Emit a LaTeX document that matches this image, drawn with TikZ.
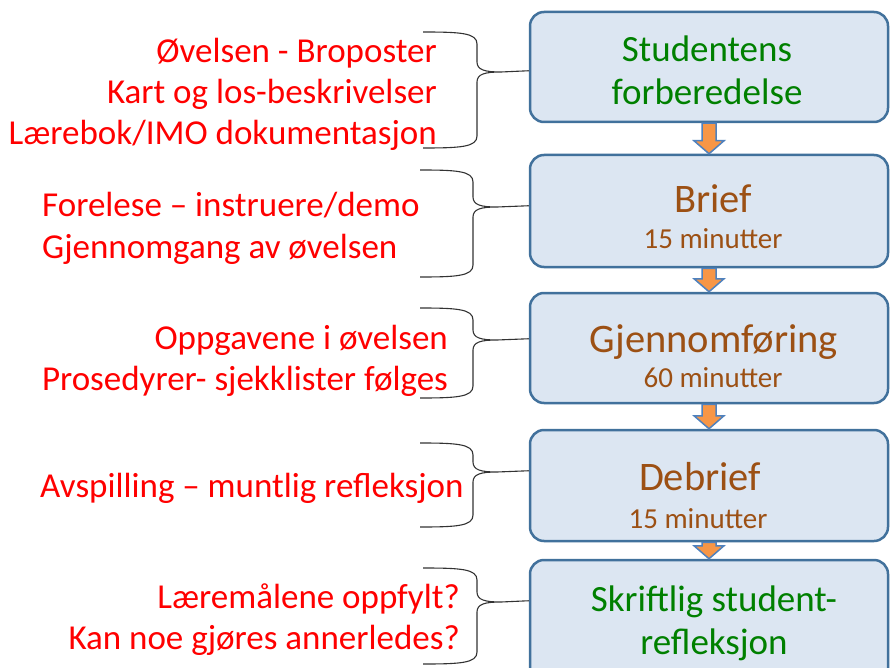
\documentclass[tikz,border=0pt]{standalone}
\usepackage{fontspec}
\setmainfont{Carlito}
\usetikzlibrary{calc}
\definecolor{boxfill}{RGB}{220,230,242}
\definecolor{boxline}{RGB}{65,113,156}
\definecolor{arrfill}{RGB}{247,150,70}
\definecolor{arrline}{RGB}{79,129,189}
\definecolor{txtred}{RGB}{255,0,0}
\definecolor{txtgreen}{RGB}{0,128,0}
\definecolor{txtbrown}{RGB}{156,80,20}
\newcommand\mybrace[6]{%
  \draw[brc] (#1,#4) .. controls (#2-16,#4) and (#2,#4+1) .. (#2,#4+12) -- (#2,#5-10)
    .. controls (#2,#5-2) and (#2+8,#5) .. (#2+24,#5) -- (#3)
    (#2+24,#5) .. controls (#2+8,#5) and (#2,#5+2) .. (#2,#5+10) -- (#2,#6-12)
    .. controls (#2,#6-1) and (#2-16,#6) .. (#1,#6);}
\newcommand\flowarrow[2]{%
  \draw[arr] let \p1=(#1.south), \p2=(#2.north) in
    (\x1-7pt,\y1) -- (\x1-7pt,\y2+13pt) -- (\x1-15pt,\y2+13pt) -- (\x1,\y2)
    -- (\x1+15pt,\y2+13pt) -- (\x1+7pt,\y2+13pt) -- (\x1+7pt,\y1) -- cycle;}
\begin{document}
\begin{tikzpicture}[x=1pt,y=-1pt,
  stepbox/.style={draw=boxline, fill=boxfill, line width=2.5pt, rounded corners=14pt,
    minimum width=358pt, inner sep=0pt},
  arr/.style={fill=arrfill, draw=arrline, line width=1.5pt, line join=miter},
  brc/.style={draw=black!80, line width=1.1pt},
  lefttxt/.style={text=txtred, font=\fontsize{35}{41}\selectfont, inner sep=0pt},
  grntxt/.style={text=txtgreen, font=\fontsize{37}{43}\selectfont, inner sep=0pt, align=center, anchor=base},
  headtxt/.style={text=txtbrown, font=\fontsize{40.5}{44}\selectfont, inner sep=0pt, anchor=base},
  mintxt/.style={text=txtbrown, font=\fontsize{29}{32}\selectfont, inner sep=0pt, anchor=base}]
\path[use as bounding box] (0,0) rectangle (890,668);
\clip (0,0) rectangle (890,668);
\fill[white] (0,0) rectangle (890,668);

% boxes
\node[stepbox, minimum height=110pt] (b1) at (709,67) {};
\node[stepbox, minimum height=112pt] (b2) at (709,211) {};
\node[stepbox, minimum height=110pt] (b3) at (709,348) {};
\node[stepbox, minimum height=111pt] (b4) at (709,485.5) {};
\node[stepbox, minimum height=130pt] (b5) at (709,625) {};

% arrows
\flowarrow{b1}{b2}
\flowarrow{b2}{b3}
\flowarrow{b3}{b4}
\flowarrow{b4}{b5}

% box texts (base = last line's baseline)
\node[grntxt] (t1) at (707,105) {Studentens\\forberedelse};
\node[headtxt] (t2) at (713,212) {Brief};
\node[mintxt] (m2) at (713,248) {15 minutter};
\node[headtxt] (t3) at (714,352) {Gjennomføring};
\node[mintxt] (m3) at (713,387) {60 minutter};
\node[headtxt] (t4) at (700,490) {Debrief};
\node[mintxt] (m4) at (698,528) {15 minutter};
\node[grntxt] (t5) at (714,654) {Skriftlig student-\\refleksjon};

% left texts (base = last line's baseline)
\node[lefttxt, align=right, anchor=base east] (l1) at (437,145)
  {Øvelsen - Broposter\\Kart og los-beskrivelser\\Lærebok/IMO dokumentasjon};
\node[lefttxt, align=left, anchor=base west] (l2) at (42,258)
  {Forelese – instruere/demo\\Gjennomgang av øvelsen};
\node[lefttxt, align=right, anchor=base east] (l3) at (448,390)
  {Oppgavene i øvelsen\\Prosedyrer- sjekklister følges};
\node[lefttxt, anchor=base west] (l4) at (40,497)
  {Avspilling – muntlig refleksjon};
\node[lefttxt, align=right, anchor=base east] (l5) at (460,649)
  {Læremålene oppfylt?\\Kan noe gjøres annerledes?};

% brace tips on the boxes
\coordinate (k1) at ($(b1.north west)+(0,60)$);
\coordinate (k2) at ($(b2.north west)+(0,52)$);
\coordinate (k3) at ($(b3.north west)+(0,47)$);
\coordinate (k4) at ($(b4.north west)+(0,42)$);
\coordinate (k5) at ($(b5.north west)+(0,42)$);

% braces
\mybrace{423}{477}{k1}{32}{72}{148}
\mybrace{420}{473}{k2}{170}{207}{277}
\mybrace{420}{473}{k3}{308}{340}{398}
\mybrace{420}{473}{k4}{443}{472}{527}
\mybrace{423}{477}{k5}{568}{602}{664}
\end{tikzpicture}
\end{document}
